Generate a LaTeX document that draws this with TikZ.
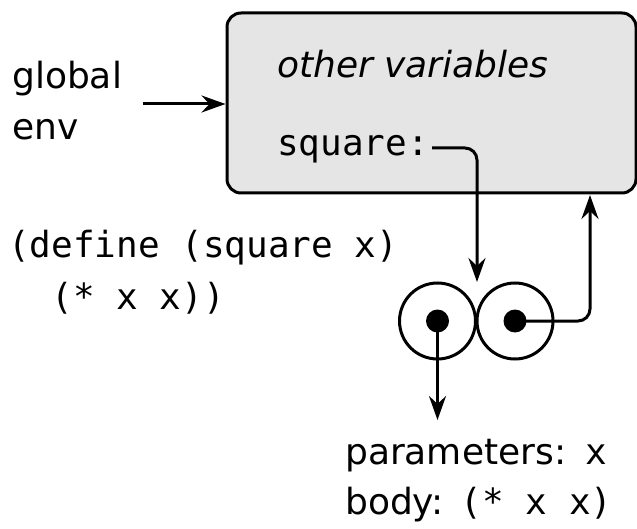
\documentclass[tikz,border=0pt]{standalone}
\usepackage{fontspec}
\setmainfont{DejaVu Sans}
\setmonofont{DejaVu Sans Mono}
\usetikzlibrary{arrows.meta}
\begin{document}
\begin{tikzpicture}[x=1pt,y=-1pt,
  txt/.style={anchor=base west,inner sep=0pt,font=\fontsize{36}{42}\selectfont},
  arr/.style={line width=3pt,-{Stealth[length=24pt,width=17pt,inset=8pt]}},
  frame/.style={draw,line width=3pt,fill=black!10,rounded corners=14pt,inner sep=0pt,minimum width=409pt,minimum height=180pt},
  cell/.style={draw,circle,line width=3pt,minimum size=76pt,inner sep=0pt},
  dot/.style={circle,fill=black,minimum size=23pt,inner sep=0pt}]
\useasboundingbox (0,0) rectangle (637,529);
\node[frame] (box) at (431.5,103) {};
\node[txt] (g1) at (12,89) {global};
\node[txt] (g2) at (12,140) {env};
\node[txt] (ov) at (277,78) {\itshape other variables};
\node[txt] (sq) at (277,156) {\ttfamily square:};
\node[txt] (df1) at (8,258) {\ttfamily (define (square x)};
\node[txt] (df2) at (8,309) {\ttfamily \ \ (* x x))};
\node[cell] (c1) at (437.5,321) {};
\node[cell] (c2) at (515,321) {};
\node[dot] (d1) at (c1.center) {};
\node[dot] (d2) at (c2.center) {};
\node[txt] (pa) at (345,464) {parameters:\hspace{19pt}\ttfamily x};
\node[txt] (bo) at (345,514) {body:\hspace{17pt}\ttfamily (* x x)};
\coordinate (ga) at (143,104);
\coordinate (sqend) at (432,148);
\coordinate (ctop) at (477,282);
\coordinate (pend) at (437.5,420);
\coordinate (rt) at (590,195);
\draw[arr] (ga) -- (ga -| box.west);
\draw[arr,rounded corners=12pt] (sqend) -| (ctop);
\draw[arr] (d1.center) -- (pend);
\draw[arr,rounded corners=12pt] (d2.center) -| (rt);
\end{tikzpicture}
\end{document}
